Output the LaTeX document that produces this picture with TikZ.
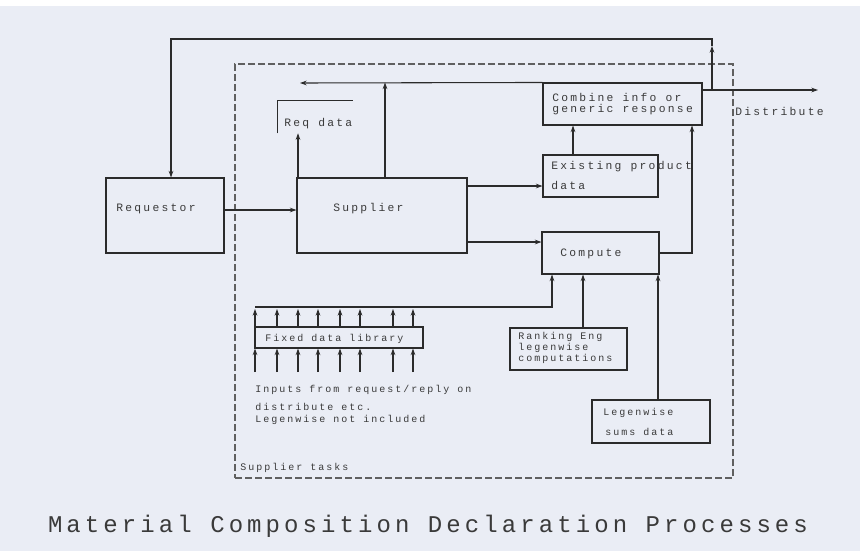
\documentclass[tikz,border=0pt]{standalone}
\usepackage{fontspec}
\usetikzlibrary{fit,arrows.meta}
\newfontfamily\plotfont[LetterSpace=20]{Liberation Mono}
\newfontfamily\titlefont[LetterSpace=17]{Liberation Mono}
\definecolor{bg}{HTML}{EAEDF5}
\definecolor{ink}{HTML}{2B2B2B}
\definecolor{txt}{HTML}{3A3A3A}
\begin{document}
\begin{tikzpicture}[x=0.75pt,y=-0.75pt,
  box/.style={draw=ink,line width=0.8pt,inner sep=0pt},
  lbl/.style={font=\plotfont\fontsize{8.5}{10}\selectfont,text=txt,anchor=base west,inner sep=0pt},
  lbls/.style={font=\plotfont\fontsize{7.5}{9}\selectfont,text=txt,anchor=base west,inner sep=0pt},
  wire/.style={draw=ink,line width=0.8pt},
  arr/.style={wire,-{Stealth[length=5pt,width=3.5pt]}},
  bound/.style={draw=ink!75,line width=0.8pt,dash pattern=on 5pt off 2.5pt,inner sep=0pt}]
\fill[white] (0,0) rectangle (860,551);
\fill[bg] (0,6) rectangle (860,551);
\useasboundingbox (0,0) rectangle (860,551);

% boundary
\node[bound,fit={(235,64) (733,478)}] (tasks) {};

% boxes
\node[box,fit={(106,178) (224,253)}] (req) {};
\node[box,fit={(297,178) (467,253)}] (sup) {};
\node[inner sep=0pt,fit={(278,101) (353,133)}] (rd) {};
\draw[wire] (rd.south west) -- (rd.north west) -- (rd.north east);
\node[box,fit={(543,83) (702,125)}] (comb) {};
\node[box,fit={(543,155) (658,197)}] (ex) {};
\node[box,fit={(542,232) (659,274)}] (comp) {};
\node[box,fit={(255,327) (423,348)}] (lib) {};
\node[box,fit={(510,328) (627,370)}] (rank) {};
\node[box,fit={(592,400) (710,443)}] (leg) {};

% texts
\node[lbl] (treq) at (116,211) {Requestor};
\node[lbl] (tsup) at (333,211) {Supplier};
\node[lbl] (trd) at (284,126) {Req data};
\node[lbl] (tcomb1) at (552,101) {Combine info or};
\node[lbl] (tcomb2) at (552,112) {generic response};
\node[lbl] (tex1) at (551,169) {Existing product};
\node[lbl] (tex2) at (551,189) {data};
\node[lbl] (tdist) at (735,115) {Distribute};
\node[lbl] (tcomp) at (560,256) {Compute};
\node[lbls] (tlib) at (265,341) {Fixed data library};
\node[lbls] (trank1) at (518,339) {Ranking Eng};
\node[lbls] (trank2) at (518,350) {legenwise};
\node[lbls] (trank3) at (518,361) {computations};
\node[lbls] (tleg1) at (603,415) {Legenwise};
\node[lbls] (tleg2) at (605,435) {sums data};
\node[lbls] (tin1) at (255,392) {Inputs from request/reply on};
\node[lbls] (tin2) at (255,410) {distribute etc.};
\node[lbls] (tin3) at (255,422) {Legenwise not included};
\node[lbls] (ttasks) at (240,470) {Supplier tasks};
\node[font=\titlefont\fontsize{18}{20}\selectfont,text=txt,anchor=base,inner sep=0pt] (title) at (428,532) {Material Composition Declaration Processes};

% connectors
\coordinate (tl) at (300,83);
\coordinate (dist) at (818,90);
\coordinate (j) at (712,90);
\coordinate (up) at (712,46);
\coordinate (bus) at (255,307);

\draw[arr] (req.east |- 0,210) -- (sup.west |- 0,210);
\draw[arr] (sup.north -| 298,0) -- (rd.south -| 298,0);
\draw[arr] (sup.north -| 385,0) -- (comb.north west -| 385,0);
\draw[arr] (comb.north west) -- (tl);
\draw[arr] (sup.east |- 0,186) -- (ex.west |- 0,186);
\draw[arr] (sup.east |- 0,242) -- (comp.west |- 0,242);
\draw[arr] (ex.north -| 573,0) -- (comb.south -| 573,0);
\draw[arr] (comp.east |- 0,253) -| (comb.south -| 692,0);
\draw[arr] (comb.east |- 0,90) -- (dist);
\draw[arr] (j) -- (up);
\draw[arr] (up) -- (712,39) -| (req.north -| 171,0);

\draw[arr] (bus) -| (comp.south -| 552,0);
\foreach \x in {255,277,298,318,340,360,393,413} {
  \draw[arr] (lib.north -| \x,0) -- (\x,309);
  \draw[arr] (\x,372) -- (lib.south -| \x,0);
}
\draw[arr] (rank.north -| 583,0) -- (comp.south -| 583,0);
\draw[arr] (leg.north -| 658,0) -- (comp.south -| 658,0);
\end{tikzpicture}
\end{document}
